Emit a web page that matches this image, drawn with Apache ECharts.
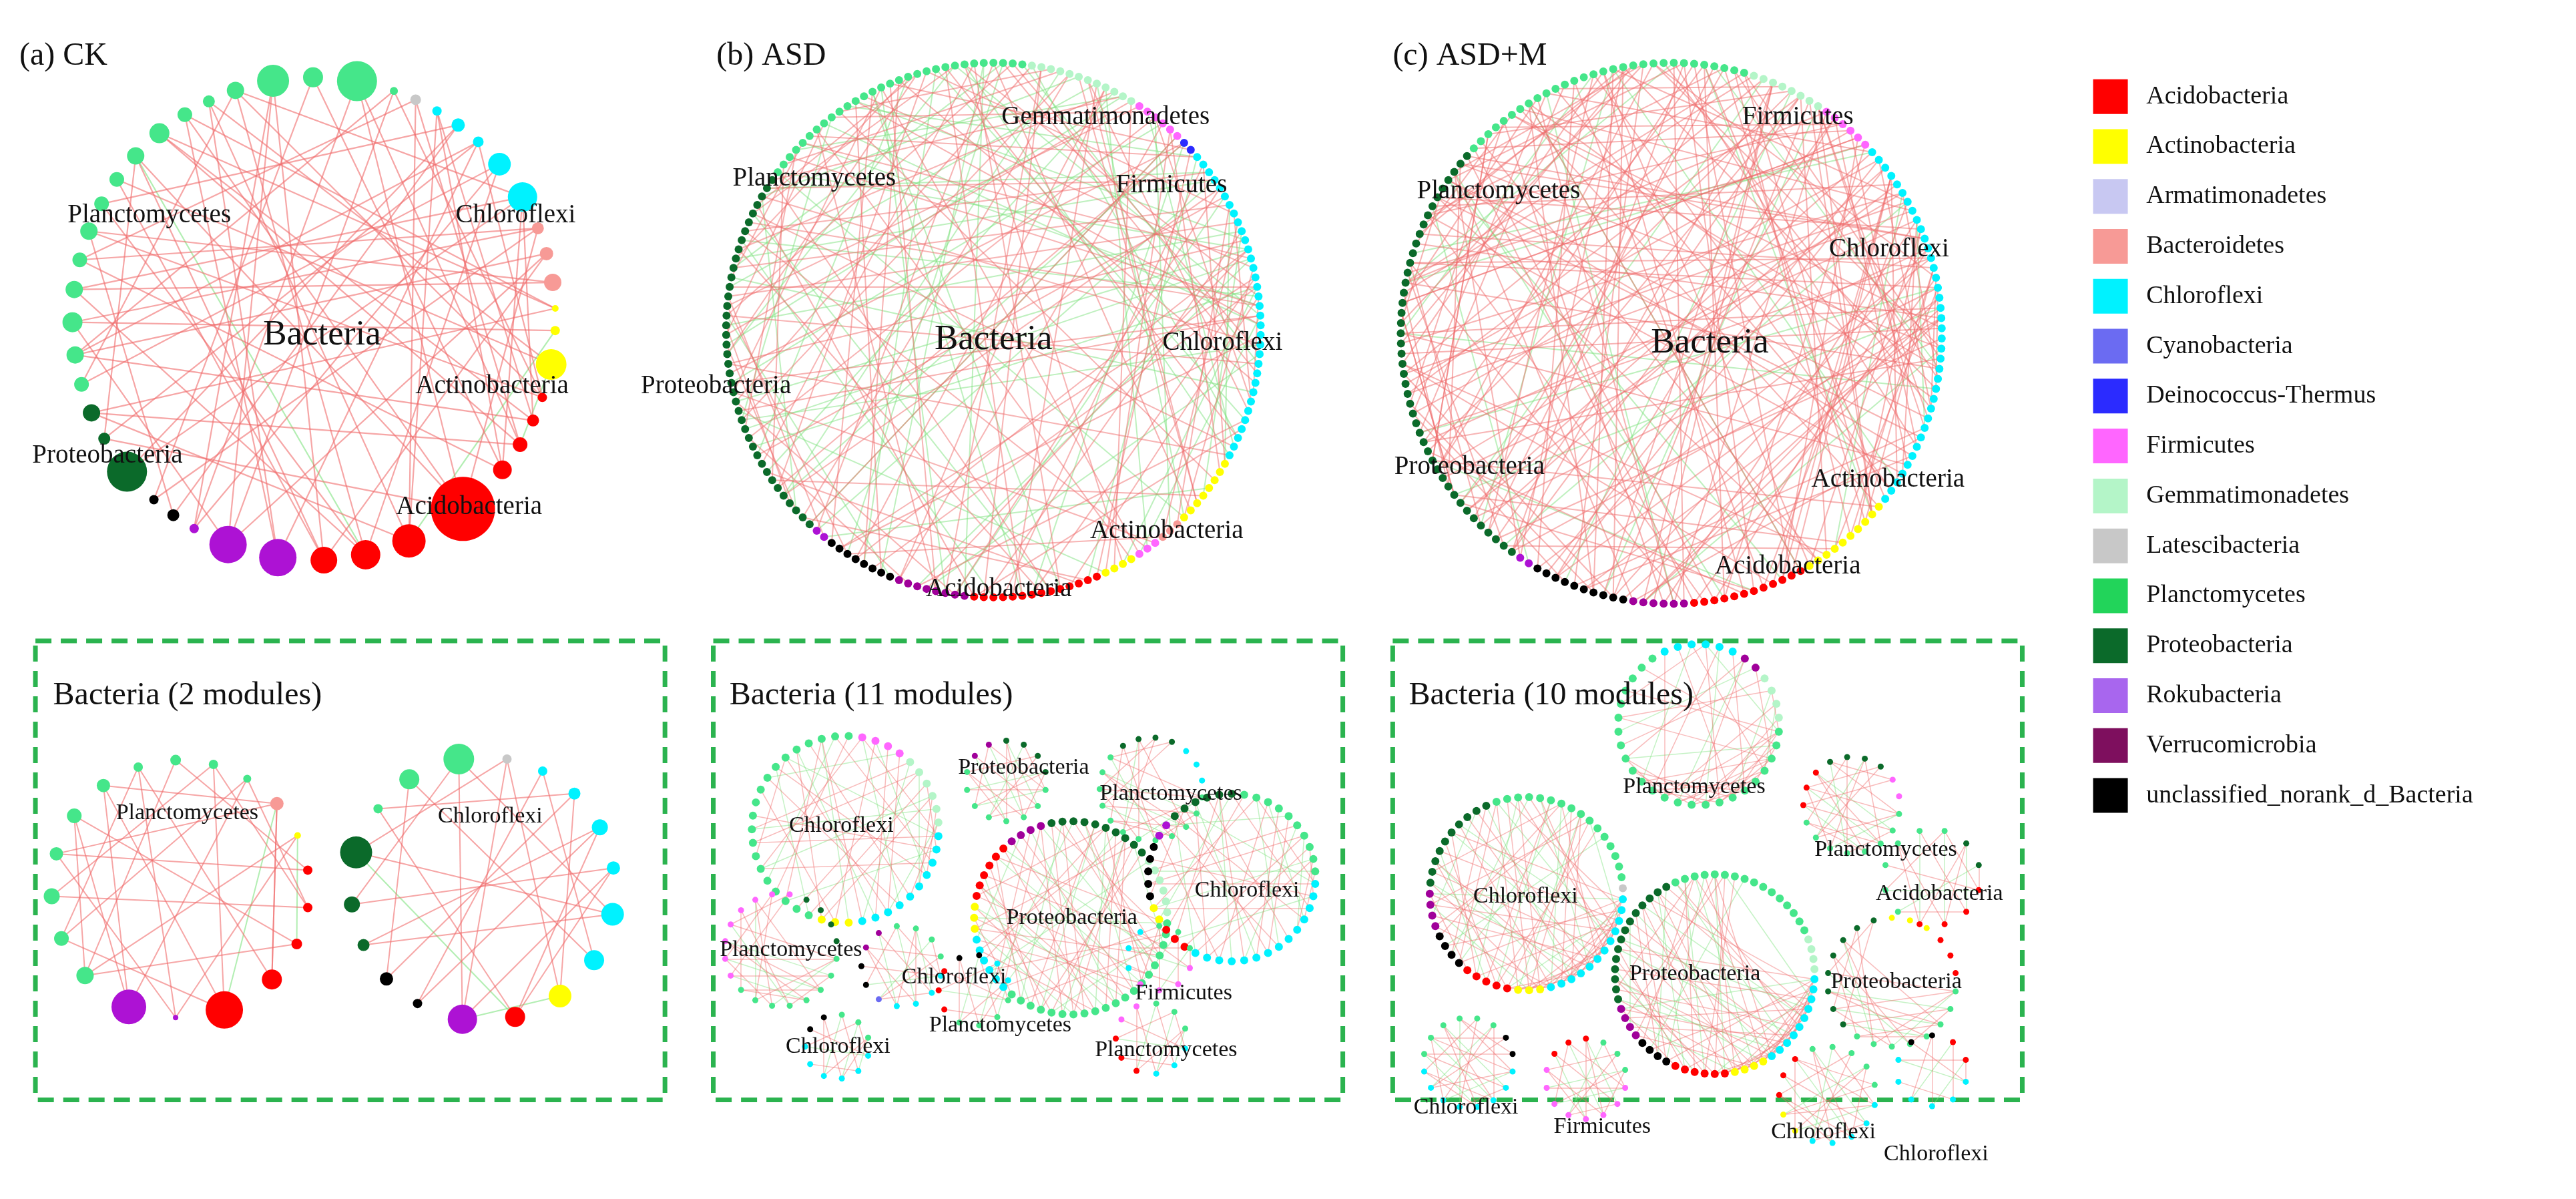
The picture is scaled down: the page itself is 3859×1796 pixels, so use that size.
<!DOCTYPE html>
<html>
<head>
<meta charset="utf-8">
<script src="https://cdn.jsdelivr.net/npm/echarts@6/dist/echarts.min.js"></script>
<style>html,body{margin:0;padding:0;background:#fff}#c{width:3859px;height:1796px}</style>
</head>
<body>
<div id="c"></div>
<script>
// phylum colours, legend order
const phyla = [
  ['A', 'Acidobacteria', '#ff0000'],
  ['Ac', 'Actinobacteria', '#ffff00'],
  ['Ar', 'Armatimonadetes', '#c8c8f2'],
  ['B', 'Bacteroidetes', '#f79a96'],
  ['C', 'Chloroflexi', '#00f2ff'],
  ['Cy', 'Cyanobacteria', '#6b6bf2'],
  ['D', 'Deinococcus-Thermus', '#2b2bff'],
  ['F', 'Firmicutes', '#ff66ff'],
  ['G', 'Gemmatimonadetes', '#b4f5c8'],
  ['L', 'Latescibacteria', '#c8c8c8'],
  ['P', 'Planctomycetes', '#22d45a'],
  ['Pr', 'Proteobacteria', '#0b6a2a'],
  ['R', 'Rokubacteria', '#a866ee'],
  ['V', 'Verrucomicrobia', '#7e0f5e'],
  ['U', 'unclassified_norank_d_Bacteria', '#000000']
];
const nodeColor = { P: '#45e68a', R: '#ad12d4', V: '#a0009a' };

// (a) CK whole network, clockwise from 3 o'clock: [phylum, size]
const ckNodes = [['Ac',14],['Ac',46],['A',14],['A',18],['A',22],['A',28],['A',96],['A',50],['A',44],['A',40],
  ['R',56],['R',56],['R',14],['U',18],['U',14],['Pr',60],['Pr',18],['Pr',26],
  ['P',22],['P',26],['P',30],['P',26],['P',22],['P',26],['P',22],['P',22],['P',26],['P',30],['P',22],['P',18],['P',26],['P',48],['P',30],['P',60],['P',12],
  ['L',16],['C',14],['C',20],['C',16],['C',34],['C',44],['B',18],['B',20],['B',26],['Ac',10]];
const ckRed = '0-20 1-25 2-30 3-19 4-33 5-22 6-28 7-35 8-21 9-31 2-38 3-40 4-27 5-36 6-41 7-17 8-24 9-42 10-29 11-34 12-39 13-23 14-32 15-37 16-26 17-44 18-30 19-38 20-41 21-40 22-35 23-43 24-37 25-9 26-6 27-3 28-10 29-1 30-8 31-11 32-5 33-12 34-2 35-4 36-7 37-13 38-16 39-18 40-15 41-14 42-19 43-21 44-27 6-33 7-29 9-26 10-38 11-20 12-31 5-40 3-36 2-23 8-39 6-16 4-17 11-42 30-40 22-41 28-44 19-34';
const ckGreen = '1-4 0-7 8-26';

// (b) ASD and (c) ASD+M whole networks: [phylum, count]
const asdRuns = [['C',14],['Ac',8],['B',3],['F',3],['Ac',4],['A',14],['V',8],['U',8],['R',2],['Pr',40],['P',30],['G',12],['F',6],['D',2],['C',20]];
const asdmRuns = [['C',18],['Ac',10],['A',12],['V',6],['U',10],['R',2],['Pr',45],['P',30],['G',8],['F',6],['C',20]];
const asdRed = '0-60 3-88 5-120 8-140 10-45 12-99 15-150 18-70 20-130 22-160 25-80 28-110 30-145 33-65 35-170 38-95 40-125 42-155 45-100 48-135 50-165 52-75 55-115 58-142 60-168 62-90 65-138 68-158 70-105 72-128 75-148 78-172 80-118 82-152 85-66 88-132 90-162 92-108 95-143 98-171 100-122 102-157 105-137 108-166 110-49 112-147 115-173 118-27 120-57 122-84 125-11 128-36 130-63 132-2 135-44 138-77 140-19 142-53 145-86 148-7 150-31 152-69 155-14 158-47 160-93 162-24 165-58 168-39 170-6 172-81 1-101 4-131 7-161 9-51 13-83 16-113 19-139 21-167 24-59 26-97 29-127 32-153 34-71 37-103 41-141 44-163 47-79 49-119 53-149 56-169 59-89 61-117 64-151 67-87 69-123 73-159 76-107 79-134 83-164 86-111 89-146 91-169 94-121 97-156 99-126 103-144 106-171 109-154 113-136 116-167 119-153 123-161 127-170';
const asdGreen = '2-50 6-92 11-134 14-160 17-62 21-104 23-148 27-172 31-78 36-117 39-152 43-96 46-129 51-166 54-88 57-124 63-157 66-101 71-143 74-169 77-112 81-149 84-126 87-163 93-131 96-170 101-139 104-165 107-144 111-173 114-154 117-40 121-73 124-9 129-55 133-3 137-68 141-21 144-85 147-12 151-64 154-33 157-94 159-47 163-18 166-76 169-29 171-108 1-77 13-127 26-142 37-99 48-118 59-131 68-152 79-165 91-141 102-156 115-164 126-172';
const asdmRed = '2-72 6-110 9-140 12-50 14-95 17-128 20-160 23-66 26-104 29-150 31-80 34-118 37-158 40-90 43-135 46-164 49-76 51-122 54-148 57-100 60-138 63-162 66-85 69-127 72-155 75-112 78-144 81-166 84-98 87-133 90-159 93-120 96-151 99-8 102-39 105-70 108-3 111-41 114-73 117-16 120-47 123-1 126-33 129-61 132-19 135-58 138-25 141-88 144-11 147-64 150-30 153-79 156-21 159-55 162-5 165-44 4-152 7-124 10-97 13-142 18-109 22-131 27-156 32-115 36-146 39-161 42-107 47-139 53-163 58-126 62-149 67-101 71-137 77-154 82-121 86-145 92-165 95-130 101-157 106-143';
const asdmGreen = '1-44 5-83 15-119 24-152 33-70 41-112 48-140 56-96 65-134 73-162 83-117 91-147 100-36 110-28 119-62 128-19 137-52 146-88 155-9 164-66 3-129 30-99 59-153 88-125';

// module networks: ck (a), asd (b), asdm (c)
const ckModL = [['A',14],['A',16],['A',30],['A',56],['R',8],['R',52],['P',26],['P',22],['P',24],['P',20],['P',22],['P',20],['P',14],['P',16],['P',14],['P',12],['B',20],['Ac',10],['A',14]];
const ckModR = [['C',34],['C',30],['Ac',34],['A',30],['R',44],['U',14],['U',20],['Pr',18],['Pr',24],['Pr',48],['P',14],['P',30],['P',46],['L',14],['C',14],['C',18],['C',24],['C',20]];
const ckModLRed = '0-8 1-10 2-12 3-7 3-14 4-9 5-11 6-13 0-15 2-16 4-17 1-6 7-12 8-14 9-16 10-5 11-3 13-18 15-5 16-2 17-6 18-9 12-4 14-0 6-10 7-15 11-16';
const ckModLGreen = '1-17 3-16';
const ckModRRed = '0-9 1-11 2-13 3-10 4-12 5-14 6-15 7-16 8-17 0-12 1-14 2-15 3-16 4-17 9-13 10-15 11-6 12-8 16-5 17-3 0-7 13-4';
const ckModRGreen = '2-4 3-9';

const asdMods = [
  [['C',10],['Ac',3],['P',20],['F',4],['G',6]],
  [['P',8],['V',2],['Pr',4]],
  [['P',12],['Pr',4],['C',3]],
  [['P',20],['C',6],['Ac',3],['A',6],['V',4],['Pr',10],['G',6]],
  [['C',14],['A',3],['Ac',2],['U',5],['R',2],['Pr',6],['P',10]],
  [['P',8],['F',8],['Pr',4]],
  [['C',4],['Cy',1],['U',2],['V',2],['P',4]],
  [['P',4],['A',3],['U',2],['C',2]],
  [['C',6],['U',2],['P',3]],
  [['F',4],['C',3],['P',3]],
  [['C',3],['A',3],['F',2],['P',3]]
];
const asdmMods = [
  [['P',24],['C',6],['V',2],['G',4]],
  [['C',12],['Ac',3],['A',5],['U',4],['V',4],['Pr',10],['P',16],['L',1]],
  [['C',10],['Ac',4],['A',6],['U',4],['V',4],['Pr',14],['P',16],['G',4]],
  [['P',8],['A',3],['Pr',4],['F',2]],
  [['A',4],['P',6],['Pr',2]],
  [['P',8],['Pr',8],['Ac',3],['A',3]],
  [['C',8],['P',6],['U',2]],
  [['F',8],['A',3],['P',3]],
  [['C',5],['Ac',2],['A',3],['P',5]],
  [['C',6],['U',2],['A',2]]
];
// shared edge patterns for modules (indices beyond a module's size are dropped)
const modRedBig = '0-20 2-31 4-40 6-25 8-35 10-45 12-28 14-38 16-48 18-33 1-22 3-41 5-29 7-36 9-46 11-24 13-39 15-30 17-43 19-27 21-37 23-44 26-47 0-33 5-42 9-30 12-40 15-47 2-18 7-27 20-38 24-46 11-34 29-44 1-39 6-44 3-26 13-46 16-32';
const modGreenBig = '0-27 3-34 7-42 10-30 14-46 18-40 22-49 25-36 1-15 4-38 8-28 11-44 17-31 20-45 6-33 13-26 21-41 2-47 9-37 16-43';
const modRedSmall = '0-6 1-8 2-10 3-7 4-12 5-9 0-11 2-13 6-14 8-15 1-4 7-12 3-10 9-14 11-15 0-9 5-13 2-7';
const modGreenSmall = '0-5 2-9 4-11 6-13 1-10 3-8';

const S = 2.412; // reference drawing scale
const colorOf = {};
phyla.forEach(p => { colorOf[p[0]] = nodeColor[p[0]] || p[2]; });

function parseEdges(str, n, color) {
  return str.split(' ').map(s => s.split('-').map(Number))
    .filter(e => e[0] < n && e[1] < n && e[0] !== e[1])
    .map(e => ({ source: e[0], target: e[1], lineStyle: { color } }));
}
function expand(runs, size) {
  const out = [];
  runs.forEach(r => { for (let i = 0; i < r[1]; i++) out.push([r[0], size]); });
  return out;
}
function net(nodes, red, green, cx, cy, r, opt) {
  opt = opt || {};
  const n = nodes.length;
  return {
    type: 'graph', layout: 'circular', silent: true, animation: false,
    left: (cx - r) * S, top: (cy - r) * S, width: 2 * r * S, height: 2 * r * S,
    symbol: 'circle',
    label: { show: false },
    data: nodes.map((d, i) => ({ name: 'n' + i, symbolSize: d[1], itemStyle: { color: colorOf[d[0]] } })),
    links: parseEdges(green, n, '#7ee27e').concat(parseEdges(red, n, '#f06a6a')),
    lineStyle: { width: opt.w || 2, opacity: opt.o || 0.55, curveness: 0 }
  };
}

const series = [
  net(ckNodes, ckRed, ckGreen, 195, 198, 150, { w: 2.2, o: 0.6 }),
  net(expand(asdRuns, 12), asdRed, asdGreen, 617, 205, 166, { w: 2, o: 0.5 }),
  net(expand(asdmRuns, 12), asdmRed + ' ' + asdRed, asdmGreen, 1038, 207, 168, { w: 2, o: 0.5 }),
  net(ckModL, ckModLRed, ckModLGreen, 112, 552, 80, { w: 2, o: 0.6 }),
  net(ckModR, ckModRRed, ckModRGreen, 300, 552, 82, { w: 2, o: 0.6 })
];
const asdBoxes = [[525,515,58],[625,485,25],[715,490,32],[665,570,60],[765,545,52],[485,590,35],[560,600,25],[605,615,22],[520,650,20],[720,595,20],[715,645,22]];
const asdmBoxes = [[1055,450,50],[948,555,60],[1065,605,62],[1150,500,30],[1200,545,30],[1175,610,40],[912,660,28],[985,670,25],[1135,680,30],[1200,665,22]];
asdMods.forEach((m, i) => {
  const b = asdBoxes[i], big = b[2] > 40;
  series.push(net(expand(m, big ? 12 : 9), big ? modRedBig : modRedSmall, big ? modGreenBig : modGreenSmall, b[0], b[1], b[2], { w: 1.5, o: 0.45 }));
});
asdmMods.forEach((m, i) => {
  const b = asdmBoxes[i], big = b[2] > 40;
  series.push(net(expand(m, big ? 12 : 9), big ? modRedBig + ' ' + modRedSmall : modRedSmall, big ? modGreenBig : modGreenSmall, b[0], b[1], b[2], { w: 1.5, o: 0.45 }));
});

// text labels [text, x, y, fontSize(display px), align]
const labels = [
  ['(a) CK', 12, 35, 20], ['(b) ASD', 445, 35, 20], ['(c) ASD+M', 865, 35, 20],
  ['Bacteria', 200, 208, 22, 'center'], ['Planctomycetes', 42, 134, 16], ['Chloroflexi', 283, 134, 16],
  ['Actinobacteria', 258, 240, 16], ['Proteobacteria', 20, 283, 16], ['Acidobacteria', 246, 315, 16],
  ['Gemmatimonadetes', 622, 73, 16], ['Planctomycetes', 455, 111, 16], ['Firmicutes', 693, 115, 16],
  ['Bacteria', 617, 211, 22, 'center'], ['Chloroflexi', 722, 213, 16], ['Proteobacteria', 398, 240, 16],
  ['Actinobacteria', 677, 330, 16], ['Acidobacteria', 575, 366, 16],
  ['Firmicutes', 1082, 73, 16], ['Planctomycetes', 880, 119, 16], ['Chloroflexi', 1136, 155, 16],
  ['Bacteria', 1062, 213, 22, 'center'], ['Proteobacteria', 866, 290, 16], ['Actinobacteria', 1125, 298, 16],
  ['Acidobacteria', 1065, 352, 16],
  ['Bacteria (2 modules)', 33, 432, 20], ['Bacteria (11 modules)', 453, 432, 20], ['Bacteria (10 modules)', 875, 432, 20],
  ['Planctomycetes', 72, 505, 14], ['Chloroflexi', 272, 507, 14],
  ['Chloroflexi', 490, 513, 14], ['Proteobacteria', 595, 477, 14], ['Planctomycetes', 683, 493, 14],
  ['Proteobacteria', 625, 570, 14], ['Chloroflexi', 742, 553, 14], ['Planctomycetes', 447, 590, 14],
  ['Chloroflexi', 560, 607, 14], ['Firmicutes', 705, 617, 14], ['Planctomycetes', 577, 637, 14],
  ['Chloroflexi', 488, 650, 14], ['Planctomycetes', 680, 652, 14],
  ['Planctomycetes', 1008, 489, 14], ['Chloroflexi', 915, 557, 14], ['Planctomycetes', 1127, 528, 14],
  ['Acidobacteria', 1165, 555, 14], ['Proteobacteria', 1012, 605, 14], ['Proteobacteria', 1137, 610, 14],
  ['Chloroflexi', 878, 688, 14], ['Firmicutes', 965, 700, 14], ['Chloroflexi', 1100, 703, 14], ['Chloroflexi', 1170, 717, 14]
];

const graphic = [];
[[22, 398], [443, 398], [865, 398]].forEach(b => graphic.push({
  type: 'rect', z: 1, shape: { x: b[0] * S, y: b[1] * S, width: 391 * S, height: 285 * S },
  style: { fill: null, stroke: '#2bb34f', lineWidth: 7, lineDash: [24, 14] }
}));
labels.forEach(l => graphic.push({
  type: 'text', z: 100, x: l[1] * S, y: l[2] * S,
  style: { text: l[0], fill: '#111', font: (l[3] * S).toFixed(0) + 'px "Liberation Serif"', align: l[4] || 'left', verticalAlign: 'middle' }
}));
phyla.forEach((p, i) => {
  const y = (60 + i * 31) * S;
  graphic.push({ type: 'rect', shape: { x: 1300 * S, y: y - 26, width: 52, height: 52 }, style: { fill: p[2] } });
  graphic.push({ type: 'text', x: 1333 * S, y: y, style: { text: p[1], fill: '#111', font: '38px "Liberation Serif"', verticalAlign: 'middle' } });
});

const chart = echarts.init(document.getElementById('c'));
chart.setOption({ backgroundColor: '#fff', animation: false, series, graphic });
</script>
</body>
</html>
